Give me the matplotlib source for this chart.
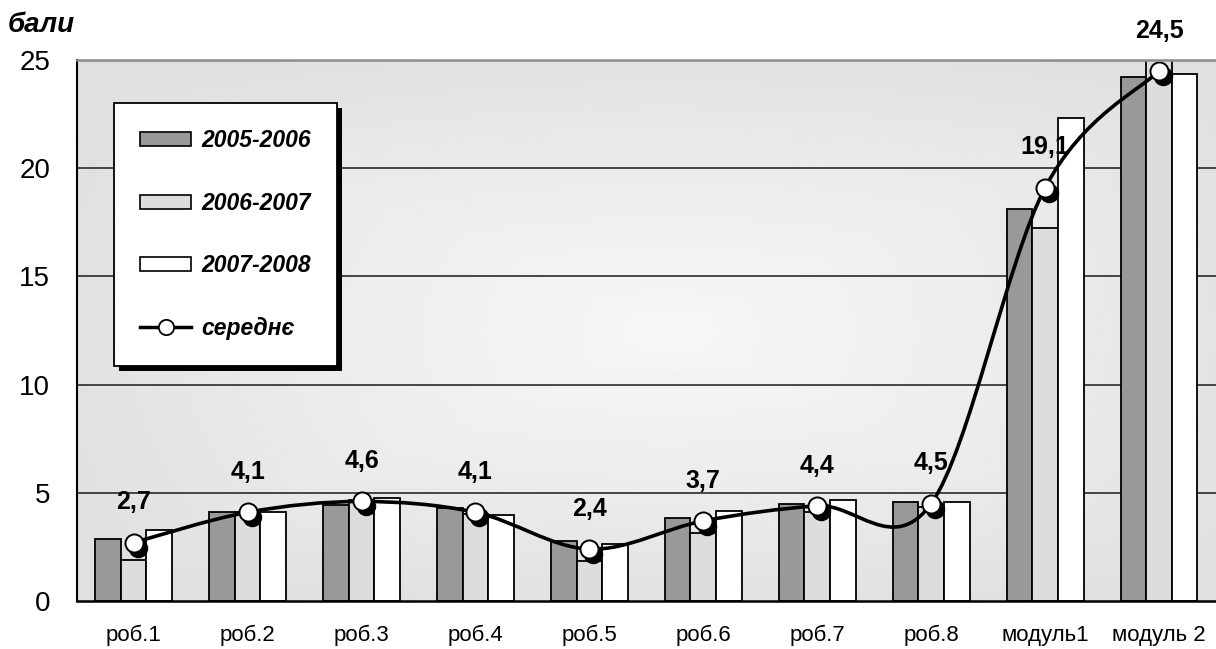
import numpy as np
import matplotlib
matplotlib.use("Agg")
import matplotlib.pyplot as plt
from matplotlib.path import Path
from matplotlib.patches import PathPatch, Patch, Rectangle
from matplotlib.lines import Line2D
from matplotlib.font_manager import FontProperties
import matplotlib.transforms as mtransforms

plt.rcParams['font.family'] = ['Liberation Sans', 'DejaVu Sans']

# ---------------- data ----------------
categories = ['роб.1', 'роб.2', 'роб.3', 'роб.4', 'роб.5', 'роб.6', 'роб.7', 'роб.8',
              'модуль1', 'модуль 2']
series_names = ['2005-2006', '2006-2007', '2007-2008']
s2005 = [2.85, 4.10, 4.43, 4.30, 2.75, 3.84, 4.48, 4.58, 18.10, 24.20]
s2006 = [1.90, 4.10, 4.65, 4.00, 1.83, 3.14, 4.10, 4.35, 17.25, 25.00]
s2007 = [3.26, 4.10, 4.74, 3.99, 2.65, 4.18, 4.66, 4.58, 22.30, 24.35]
average = [2.7, 4.1, 4.6, 4.1, 2.4, 3.7, 4.4, 4.5, 19.1, 24.5]
avg_name = 'середнє'
y_ticks = [0, 5, 10, 15, 20, 25]
y_label = 'бали'

# ---------------- figure ----------------
W, H = 1216, 649
fig = plt.figure(figsize=(W / 100, H / 100), dpi=100)
ax = fig.add_axes([76.7 / W, 48 / H, (W - 76.7) / W, 541 / H])

n = len(categories)
x = np.arange(n)
ax.set_xlim(-0.5, n - 0.5)
ax.set_ylim(0, 25)

# background gradient (lighter centre)
gx, gy = np.meshgrid(np.linspace(0, 1, 400), np.linspace(0, 1, 200))
dr = np.maximum(np.abs(gx - 0.52) / 0.52, np.abs(gy - 0.5) / 0.5)
de = np.sqrt(((gx - 0.52) / 0.52) ** 2 + ((gy - 0.5) / 0.5) ** 2) / 1.2
d = np.clip(0.5 * dr + 0.5 * de, 0, 1) ** 1.2
val = 0.965 + (0.878 - 0.965) * d
ax.imshow(val, cmap='gray', vmin=0, vmax=1, extent=[0, 1, 0, 1],
          transform=ax.transAxes, aspect='auto', zorder=0, interpolation='bilinear')

# grid lines
for t in y_ticks[1:-1]:
    ax.axhline(t, color='#2a2a2a', lw=1.2, zorder=0.5)

# bars
bw = 0.225
colors = ['#999999', '#dddddd', '#ffffff']
for k, (vals, c) in enumerate(zip([s2005, s2006, s2007], colors)):
    ax.bar(x + (k - 1) * bw, vals, width=bw, color=c, edgecolor='black',
           linewidth=1.3, zorder=1)

# smooth average line (Bezier through points, Excel-like smoothing)
P = np.column_stack([x, average]).astype(float)
verts = [tuple(P[0])]
codes = [Path.MOVETO]
for i in range(n - 1):
    p0 = P[i - 1] if i > 0 else P[i]
    p3 = P[i + 2] if i + 2 < n else P[i + 1]
    c1 = P[i] + (P[i + 1] - p0) / 6.0
    c2 = P[i + 1] - (p3 - P[i]) / 6.0
    verts += [tuple(c1), tuple(c2), tuple(P[i + 1])]
    codes += [Path.CURVE4] * 3
ax.add_patch(PathPatch(Path(verts, codes), fill=False, edgecolor='black',
                       lw=2.6, zorder=3, capstyle='round', joinstyle='round'))

# marker shadows and markers
shadow_tr = ax.transData + mtransforms.ScaledTranslation(4 / 100, -5 / 100, fig.dpi_scale_trans)
ax.plot(x, average, 'o', ms=13, mfc='black', mec='black', transform=shadow_tr,
        zorder=4, clip_on=False)
ax.plot(x, average, 'o', ms=13, mfc='white', mec='black', mew=1.4, zorder=5,
        clip_on=False)

# data labels
for i, v in enumerate(average):
    ax.annotate(f'{v:.1f}'.replace('.', ','), (x[i], v), xytext=(0, 29),
                textcoords='offset points', ha='center', va='center',
                fontsize=18, fontweight='bold', zorder=2.5, annotation_clip=False)

# axes styling
ax.set_yticks(y_ticks)
ax.set_yticklabels([str(t) for t in y_ticks])
ax.set_xticks(x)
ax.set_xticklabels(categories)
ax.tick_params(axis='y', length=0, pad=19, labelsize=20)
ax.tick_params(axis='x', length=0, pad=17, labelsize=16)
ax.spines['left'].set_color('black')
ax.spines['left'].set_linewidth(1.5)
ax.spines['bottom'].set_color('black')
ax.spines['bottom'].set_linewidth(1.8)
ax.spines['top'].set_color('#8c8c8c')
ax.spines['top'].set_linewidth(1.8)
ax.spines['right'].set_visible(False)
for sp in ax.spines.values():
    sp.set_zorder(6)

fig.text(8 / W, 1 - 32 / H, y_label, fontsize=20, fontweight='bold',
         fontstyle='italic', va='baseline', ha='left')

# legend
handles = [Patch(facecolor=c, edgecolor='black', linewidth=1.2) for c in colors]
handles.append(Line2D([], [], color='black', lw=2.5, marker='o', ms=11,
                      mfc='white', mec='black', mew=1.3))
labels = series_names + [avg_name]
leg = ax.legend(handles, labels, loc='upper left', bbox_to_anchor=(0.0327, 0.9205),
                borderaxespad=0, prop=FontProperties(family=['Liberation Sans', 'DejaVu Sans'],
                                                     weight='bold', style='italic', size=16.5),
                frameon=True, fancybox=False, edgecolor='black', facecolor='white',
                framealpha=1, borderpad=1.15, labelspacing=1.72, handlelength=2.2,
                handleheight=0.55, handletextpad=0.45)
leg.get_frame().set_linewidth(1.3)
leg.set_zorder(10)

fig.canvas.draw()
bb = leg.get_window_extent()
sh = Rectangle((bb.x0 + 5, bb.y0 - 5), bb.width, bb.height, facecolor='black',
               edgecolor='none', transform=mtransforms.IdentityTransform(),
               zorder=9.9, clip_on=False)
ax.add_artist(sh)

fig.savefig('out.png', dpi=100)
